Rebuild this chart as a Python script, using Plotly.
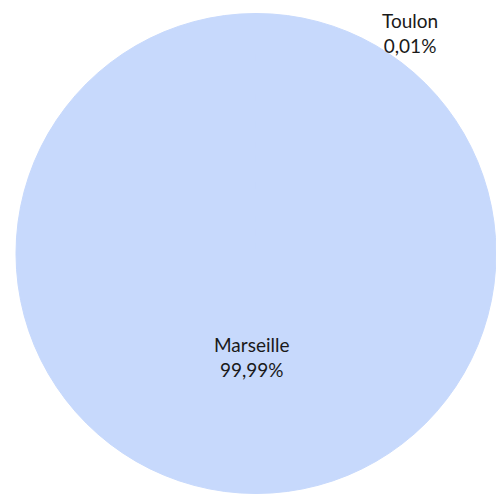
import plotly.graph_objects as go

categories = ["Marseille", "Toulon"]
values = [99.99, 0.01]
pct_labels = ["99,99%", "0,01%"]

W, H = 496, 495
fig = go.Figure()
fig.add_trace(go.Pie(
    labels=categories,
    values=values,
    sort=False,
    direction="clockwise",
    rotation=0,
    textinfo="none",
    textposition="none",
    hoverinfo="label+percent",
    marker=dict(colors=["#c7d9fc", "#c7d9fc"], line=dict(width=1, color="#c7d9fc")),
    domain=dict(x=[16 / W, 496 / W], y=[1 / H, 482 / H]),
    showlegend=False,
))

label_pos = {"Marseille": (251, 357), "Toulon": (410, 33)}
for name, pct in zip(categories, pct_labels):
    px, py = label_pos[name]
    fig.add_annotation(
        x=px / W, y=1 - py / H, xref="paper", yref="paper",
        text=f"{name}<br>{pct}", showarrow=False,
        font=dict(family="Lato", size=19, color="#1a1a1a"),
        align="center", xanchor="center", yanchor="middle",
    )

fig.update_layout(
    width=W, height=H,
    margin=dict(l=0, r=0, t=0, b=0),
    paper_bgcolor="white", plot_bgcolor="white",
)
fig.write_html(
    "out.html",
    config={"displayModeBar": False},
    post_script="document.body.style.margin='0';document.body.style.overflow='hidden';",
)
